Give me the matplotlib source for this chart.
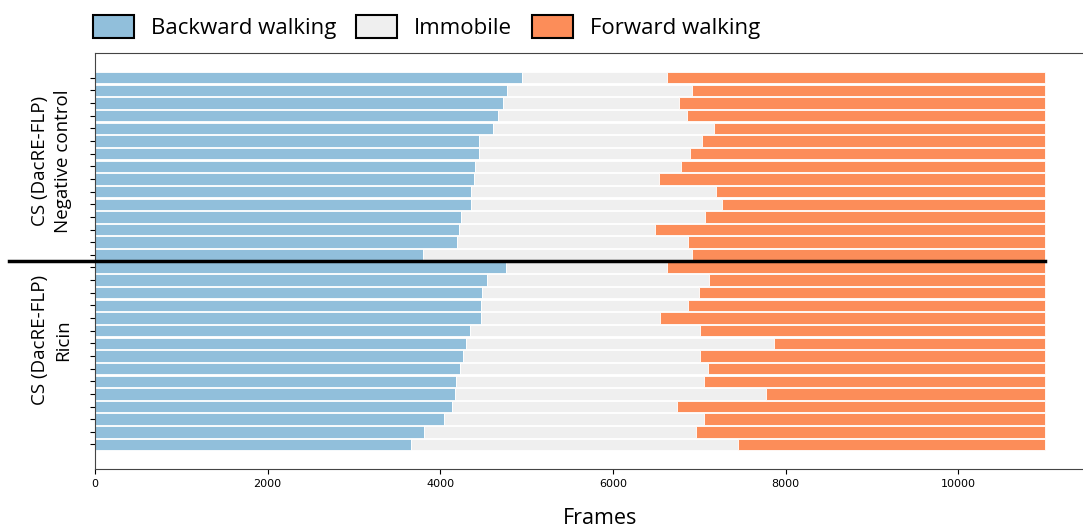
import numpy as np
import matplotlib
matplotlib.use("Agg")
import matplotlib.pyplot as plt
from matplotlib.patches import Patch

plt.rcParams['font.family'] = ['Open Sans', 'DejaVu Sans']

# frames spent in each state, 11000 frames per fly
ctrl_backward = [4950, 4768, 4726, 4671, 4610, 4451, 4451, 4405, 4385, 4358, 4355, 4243, 4216, 4188, 3798]
ctrl_immobile = [1672, 2149, 2036, 2187, 2557, 2585, 2438, 2388, 2145, 2832, 2909, 2828, 2272, 2686, 3122]
ctrl_forward = [4378, 4083, 4238, 4142, 3833, 3964, 4111, 4207, 4470, 3810, 3736, 3929, 4512, 4126, 4080]

ricin_backward = [4756, 4536, 4486, 4466, 4466, 4343, 4292, 4258, 4231, 4181, 4169, 4131, 4042, 3810, 3659]
ricin_immobile = [1874, 2578, 2512, 2404, 2083, 2662, 3570, 2747, 2867, 2878, 3601, 2615, 3017, 3157, 3791]
ricin_forward = [4370, 3886, 4002, 4130, 4451, 3995, 3138, 3995, 3902, 3941, 3230, 4254, 3941, 4033, 3550]

state_names = ['Backward walking', 'Immobile', 'Forward walking']
state_colors = ['#91bfdb', '#efefef', '#fc8d59']
group_names = ['CS (DacRE-FLP)\nNegative control', 'CS (DacRE-FLP)\nRicin']

backward = np.array(ctrl_backward + ricin_backward)
immobile = np.array(ctrl_immobile + ricin_immobile)
forward = np.array(ctrl_forward + ricin_forward)
n_ctrl = len(ctrl_backward)
y = np.arange(len(backward))

fig = plt.figure(figsize=(10.83, 5.28), dpi=100)
ax = fig.add_axes([95 / 1083, 1 - 469 / 528, 1010 / 1083, (469 - 53) / 528])

left = np.zeros(len(y))
for vals, col in zip([backward, immobile, forward], state_colors):
    ax.barh(y, vals, left=left, height=0.9, color=col, edgecolor='white', linewidth=0.6)
    left = left + vals

# separator between the two genotypes
ax.plot([-1000, 11000], [n_ctrl - 0.5, n_ctrl - 0.5], color='black', lw=2.5, clip_on=False, zorder=5)

ax.set_ylim(len(y) - 1 + 1.94, -1.96)
ax.set_xlim(0, 11700)
ax.set_yticks(y)
ax.set_yticklabels([])
ax.tick_params(axis='y', length=3.5, width=0.8)
ax.tick_params(axis='x', labelsize=8, length=3.5)
for lab in ax.get_xticklabels():
    lab.set_fontfamily('DejaVu Sans')
ax.set_xticks([0, 2000, 4000, 6000, 8000, 10000])
ax.set_xlabel('Frames', fontsize=15.5, labelpad=14)
for s in ax.spines.values():
    s.set_color('#444444')

# group labels on the left
ax.text(-0.043, 0.74, group_names[0], transform=ax.transAxes, rotation=90,
        ha='center', va='center', fontsize=13.5, linespacing=1.4)
ax.text(-0.043, 0.31, group_names[1], transform=ax.transAxes, rotation=90,
        ha='center', va='center', fontsize=13.5, linespacing=1.4)

handles = [Patch(facecolor=c, edgecolor='black', linewidth=1.5) for c in state_colors]
fig.legend(handles, state_names, loc='center left', bbox_to_anchor=(93 / 1083, 1 - 27 / 528),
           ncol=3, frameon=False, fontsize=16, handlelength=1.85, handleheight=1.25,
           handletextpad=0.75, columnspacing=0.9, borderpad=0, borderaxespad=0)

fig.savefig('out.png', dpi=100)
